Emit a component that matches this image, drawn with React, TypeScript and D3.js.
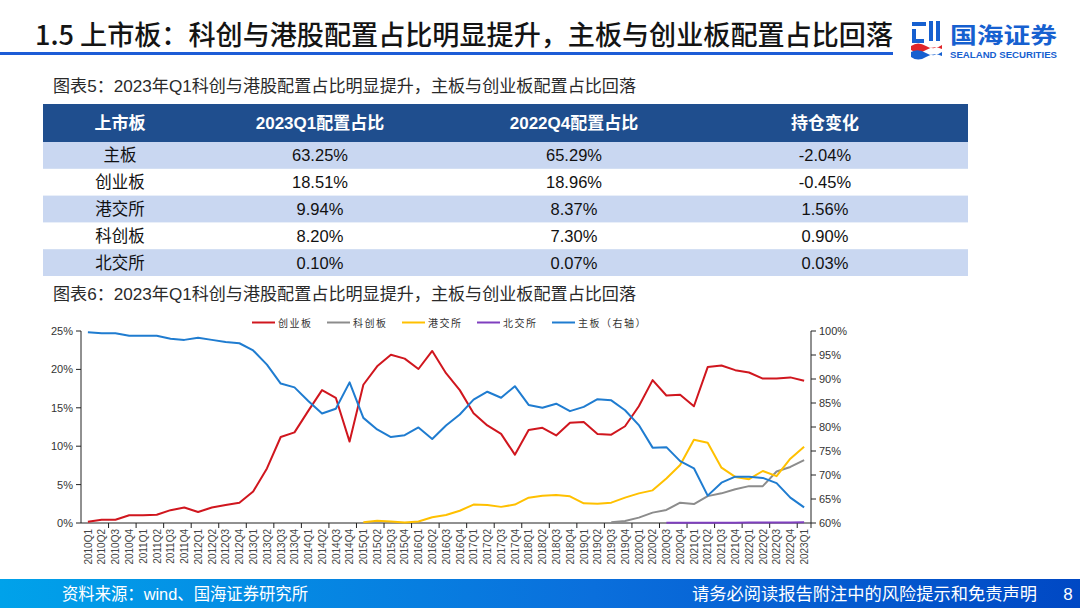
import React from 'react';
import * as d3 from 'd3';

const quarters = [
  '2010Q1','2010Q2','2010Q3','2010Q4','2011Q1','2011Q2','2011Q3','2011Q4',
  '2012Q1','2012Q2','2012Q3','2012Q4','2013Q1','2013Q2','2013Q3','2013Q4',
  '2014Q1','2014Q2','2014Q3','2014Q4','2015Q1','2015Q2','2015Q3','2015Q4',
  '2016Q1','2016Q2','2016Q3','2016Q4','2017Q1','2017Q2','2017Q3','2017Q4',
  '2018Q1','2018Q2','2018Q3','2018Q4','2019Q1','2019Q2','2019Q3','2019Q4',
  '2020Q1','2020Q2','2020Q3','2020Q4','2021Q1','2021Q2','2021Q3','2021Q4',
  '2022Q1','2022Q2','2022Q3','2022Q4','2023Q1'
];

// 创业板 (left axis, %)
const chinext: (number | null)[] = [
  0.15, 0.42, 0.42, 1.0, 1.0, 1.08, 1.67, 2.02, 1.44, 2.02, 2.33, 2.63,
  4.1, 7.1, 11.2, 11.8, 14.6, 17.3, 16.3, 10.6, 18.0, 20.4, 21.9, 21.4,
  20.05, 22.4, 19.5, 17.3, 14.3, 12.7, 11.6, 8.9, 12.1, 12.4, 11.4, 13.06,
  13.15, 11.6, 11.5, 12.6, 15.2, 18.6, 16.6, 16.7, 15.2, 20.3, 20.5, 19.9,
  19.6, 18.8, 18.8, 18.96, 18.51
];

// 科创板 (left axis, %)
const star: (number | null)[] = [
  null, null, null, null, null, null, null, null, null, null, null, null,
  null, null, null, null, null, null, null, null, null, null, null, null,
  null, null, null, null, null, null, null, null, null, null, null, null,
  null, null, 0.1, 0.26, 0.7, 1.35, 1.7, 2.65, 2.47, 3.5, 3.86, 4.4,
  4.8, 4.8, 6.7, 7.3, 8.2
];

// 港交所 (left axis, %)
const hkex: (number | null)[] = [
  null, null, null, null, null, null, null, null, null, null, null, null,
  null, null, null, null, null, null, null, null, 0.1, 0.3, 0.2, 0.05,
  0.2, 0.75, 1.05, 1.6, 2.4, 2.35, 2.1, 2.4, 3.3, 3.55, 3.65, 3.47,
  2.56, 2.52, 2.65, 3.3, 3.86, 4.25, 5.8, 7.55, 10.85, 10.46, 7.2, 6.0,
  5.7, 6.77, 6.1, 8.37, 9.94
];

// 北交所 (left axis, %)
const bse: (number | null)[] = [
  null, null, null, null, null, null, null, null, null, null, null, null,
  null, null, null, null, null, null, null, null, null, null, null, null,
  null, null, null, null, null, null, null, null, null, null, null, null,
  null, null, null, null, null, null, 0.02, 0.02, 0.02, 0.02, 0.02, 0.04,
  0.05, 0.06, 0.06, 0.07, 0.1
];

// 主板 (right axis, %)
const mainBoard: (number | null)[] = [
  99.75, 99.55, 99.55, 99.0, 99.0, 99.0, 98.4, 98.15, 98.6, 98.15, 97.7, 97.45,
  95.95, 93.0, 89.05, 88.25, 85.4, 82.8, 83.8, 89.3, 81.9, 79.5, 77.9, 78.3,
  79.9, 77.5, 80.3, 82.6, 85.7, 87.35, 86.1, 88.5, 84.6, 84.0, 84.85, 83.3,
  84.2, 85.8, 85.55, 83.5, 80.4, 75.7, 75.8, 72.9, 71.4, 65.7, 68.4, 69.65,
  69.65, 69.4, 68.3, 65.29, 63.25
];

const leftTicks = [0, 5, 10, 15, 20, 25];
const rightTicks = [60, 65, 70, 75, 80, 85, 90, 95, 100];

const tableHeaders = ['上市板', '2023Q1配置占比', '2022Q4配置占比', '持仓变化'];
const tableBoards = ['主板', '创业板', '港交所', '科创板', '北交所'];
const tableQ1 = ['63.25%', '18.51%', '9.94%', '8.20%', '0.10%'];
const tableQ4 = ['65.29%', '18.96%', '8.37%', '7.30%', '0.07%'];
const tableChange = ['-2.04%', '-0.45%', '1.56%', '0.90%', '0.03%'];

const seriesNames = ['创业板', '科创板', '港交所', '北交所', '主板（右轴）'];
const seriesColors = ['#D0161E', '#8C8C8C', '#FFC000', '#7F3FBF', '#1F7CD0'];

const titleText = '1.5 上市板：科创与港股配置占比明显提升，主板与创业板配置占比回落';
const caption5 = '图表5：2023年Q1科创与港股配置占比明显提升，主板与创业板配置占比回落';
const caption6 = '图表6：2023年Q1科创与港股配置占比明显提升，主板与创业板配置占比回落';
const sourceText = '资料来源：wind、国海证券研究所';
const disclaimer = '请务必阅读报告附注中的风险提示和免责声明';

const CJK = "'Noto Sans CJK SC', 'Liberation Sans', sans-serif";
const LAT = "'Liberation Sans', 'Noto Sans CJK SC', Arial, sans-serif";

export default function App() {
  const W = 1080, H = 608;
  const plotL = 81, plotR = 811, plotT = 331, plotB = 523;

  const x = d3.scaleBand<string>().domain(quarters).range([plotL, plotR]).padding(0);
  const bw = x.bandwidth();
  const cx = (i: number) => (x(quarters[i]) as number) + bw / 2;
  const yL = d3.scaleLinear().domain([0, 25]).range([plotB, plotT]);
  const yR = d3.scaleLinear().domain([60, 100]).range([plotB, plotT]);

  const mkLine = (scale: d3.ScaleLinear<number, number>) =>
    d3.line<number | null>()
      .defined((d) => d != null)
      .x((_, i) => cx(i))
      .y((d) => scale(d as number));

  const leftLine = mkLine(yL);
  const rightLine = mkLine(yR);
  const series = [
    { data: chinext, line: leftLine },
    { data: star, line: leftLine },
    { data: hkex, line: leftLine },
    { data: bse, line: leftLine },
    { data: mainBoard, line: rightLine },
  ];

  const tX0 = 43, tX1 = 968;
  const colCenters = [120, 320, 574, 825];
  const headY0 = 104, headH = 38, rowH = 26.8;
  const rowsData = tableBoards.map((b, i) => [b, tableQ1[i], tableQ4[i], tableChange[i]]);

  const legendX = [252, 327, 402, 477, 552];

  return (
    <svg width={W} height={H} style={{ position: 'fixed', left: 0, top: 0, background: '#fff' }}>
      <defs>
        <linearGradient id="footGrad" x1="0" x2="1" y1="0" y2="0">
          <stop offset="0" stopColor="#00A2EA" />
          <stop offset="0.55" stopColor="#0A6FDC" />
          <stop offset="1" stopColor="#0048C4" />
        </linearGradient>
      </defs>
      <rect x={0} y={0} width={W} height={H} fill="#fff" />

      {/* Header */}
      <text x={35} y={45} fontFamily={CJK} fontSize={27} fontWeight={500} fill="#141414"
        textLength={858} lengthAdjust="spacingAndGlyphs">{titleText}</text>
      <rect x={0} y={52} width={893} height={3} fill="#1C5CD6" />

      {/* Logo */}
      <g>
        <rect x={912} y={22} width={14} height={4} fill="#1660D0" />
        <rect x={912} y={29} width={4} height={14} fill="#1660D0" />
        <rect x={916} y={39} width={8} height={4} fill="#1660D0" />
        <rect x={929} y={21} width={4} height={20} fill="#1660D0" />
        <rect x={936} y={21} width={4} height={20} fill="#1660D0" />
        <path d="M911,46 Q918,41 926,46 T942,45 L942,49 Q934,45 926,50 T911,50 Z" fill="#E0262A" />
        <path d="M911,52 Q918,48 926,53 T942,52 L942,56 Q934,52 926,57 T911,57 Z" fill="#1660D0" />
        <text x={950} y={43} fontFamily={CJK} fontSize={22} fontWeight={700} fill="#1660D0"
          textLength={107} lengthAdjust="spacingAndGlyphs">国海证券</text>
        <text x={950} y={58} fontFamily={LAT} fontSize={8.5} fontWeight={700} fill="#1660D0"
          textLength={107} lengthAdjust="spacingAndGlyphs">SEALAND SECURITIES</text>
      </g>

      {/* Caption 5 */}
      <text x={53} y={92} fontFamily={LAT} fontSize={16.5} fill="#2a2a2a"
        textLength={583} lengthAdjust="spacingAndGlyphs">{caption5}</text>

      {/* Table */}
      <rect x={tX0} y={headY0} width={tX1 - tX0} height={headH} fill="#1F4E8E" />
      {tableHeaders.map((h, j) => (
        <text key={'h' + j} x={colCenters[j]} y={headY0 + headH / 2 + 6} textAnchor="middle"
          fontFamily={LAT} fontSize={17} fontWeight={700} fill="#fff">{h}</text>
      ))}
      {rowsData.map((r, i) => {
        const y0 = headY0 + headH + i * rowH;
        return (
          <g key={'r' + i}>
            {i % 2 === 0 && <rect x={tX0} y={y0} width={tX1 - tX0} height={rowH} fill="#C9D7F1" />}
            {r.map((v, j) => (
              <text key={j} x={colCenters[j]} y={y0 + rowH / 2 + 6} textAnchor="middle"
                fontFamily={LAT} fontSize={16.5} fill="#111">{v}</text>
            ))}
          </g>
        );
      })}

      {/* Caption 6 */}
      <text x={53} y={300} fontFamily={LAT} fontSize={16.5} fill="#2a2a2a"
        textLength={583} lengthAdjust="spacingAndGlyphs">{caption6}</text>

      {/* Legend */}
      {seriesNames.map((n, i) => (
        <g key={'lg' + i}>
          <line x1={legendX[i]} x2={legendX[i] + 23} y1={322.5} y2={322.5} stroke={seriesColors[i]} strokeWidth={2} />
          <text x={legendX[i] + 26} y={326.5} fontFamily={CJK} fontSize={10} fill="#333" letterSpacing={1.5}>{n}</text>
        </g>
      ))}

      {/* Axes */}
      <line x1={plotL} x2={plotL} y1={plotT} y2={plotB} stroke="#222" strokeWidth={1} />
      <line x1={plotR} x2={plotR} y1={plotT} y2={plotB} stroke="#222" strokeWidth={1} />
      <line x1={plotL} x2={plotR} y1={plotB} y2={plotB} stroke="#222" strokeWidth={1} />
      {leftTicks.map((t) => (
        <g key={'lt' + t}>
          <line x1={plotL - 5} x2={plotL} y1={yL(t)} y2={yL(t)} stroke="#222" />
          <text x={plotL - 8} y={yL(t) + 4} textAnchor="end" fontFamily={LAT} fontSize={11} fill="#333">{t + '%'}</text>
        </g>
      ))}
      {rightTicks.map((t) => (
        <g key={'rt' + t}>
          <line x1={plotR} x2={plotR + 5} y1={yR(t)} y2={yR(t)} stroke="#222" />
          <text x={plotR + 8} y={yR(t) + 4} textAnchor="start" fontFamily={LAT} fontSize={11} fill="#333">{t + '%'}</text>
        </g>
      ))}
      {quarters.map((q, i) => (i % 2 === 0 && i > 0 ? (
        <line key={'xt' + i} x1={x(q) as number} x2={x(q) as number} y1={plotB} y2={plotB + 5} stroke="#222" />
      ) : null))}
      <line x1={plotR} x2={plotR} y1={plotB} y2={plotB + 5} stroke="#222" />
      {quarters.map((q, i) => (
        <text key={'xl' + i} transform={`translate(${cx(i) + 3.8},${plotB + 6}) rotate(-90)`}
          textAnchor="end" fontFamily={LAT} fontSize={10} fill="#444">{q}</text>
      ))}

      {/* Lines */}
      {series.map((s, i) => (
        <path key={'s' + i} d={s.line(s.data) || ''} fill="none" stroke={seriesColors[i]}
          strokeWidth={2} strokeLinejoin="round" />
      ))}

      {/* Footer */}
      <rect x={0} y={579} width={W} height={29} fill="url(#footGrad)" />
      <text x={62} y={600} fontFamily={LAT} fontSize={17} fill="#fff"
        textLength={246} lengthAdjust="spacingAndGlyphs">{sourceText}</text>
      <text x={692} y={600} fontFamily={CJK} fontSize={17} fill="#fff"
        textLength={345} lengthAdjust="spacingAndGlyphs">{disclaimer}</text>
      <text x={1068} y={600} textAnchor="middle" fontFamily={LAT} fontSize={17} fill="#fff">8</text>
    </svg>
  );
}
